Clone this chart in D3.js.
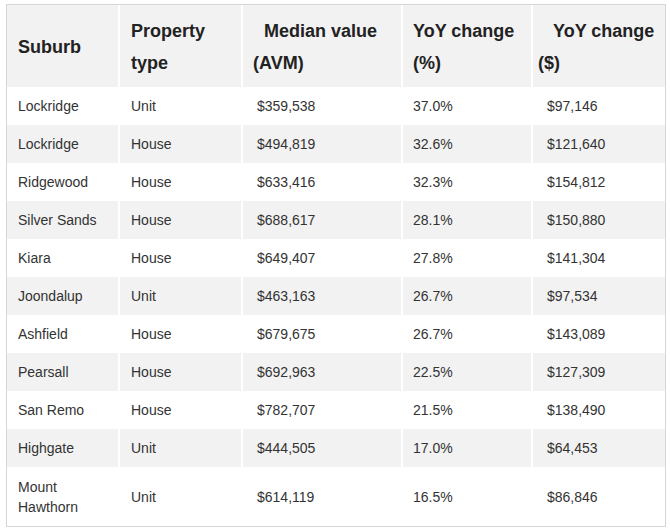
<!DOCTYPE html>
<html>
<head>
<meta charset="utf-8">
<script src="https://cdn.jsdelivr.net/npm/d3@7/dist/d3.min.js"></script>
<style>
  body { margin: 0; background: #fff; }
  text { font-family: "Liberation Sans", Arial, Helvetica, sans-serif; }
</style>
</head>
<body>
<div id="table"></div>
<script>
// table content
var headers = [["Suburb"], ["Property", "type"], ["Median value", "(AVM)"], ["YoY change", "(%)"], ["YoY change", "($)"]];
var suburbs = [["Lockridge"], ["Lockridge"], ["Ridgewood"], ["Silver Sands"], ["Kiara"], ["Joondalup"],
    ["Ashfield"], ["Pearsall"], ["San Remo"], ["Highgate"], ["Mount", "Hawthorn"]];
var propTypes = ["Unit", "House", "House", "House", "House", "Unit", "House", "House", "House", "Unit", "Unit"];
var medianValues = [359538, 494819, 633416, 688617, 649407, 463163, 679675, 692963, 782707, 444505, 614119];
var yoyPct = [37.0, 32.6, 32.3, 28.1, 27.8, 26.7, 26.7, 22.5, 21.5, 17.0, 16.5];
var yoyDollar = [97146, 121640, 154812, 150880, 141304, 97534, 143089, 127309, 138490, 64453, 86846];

var width = 670, height = 532;
var tLeft = 6, tRight = 665, tTop = 4, tBottom = 526;

// column edges
var colEdges = [6, 119, 242, 402, 532, 665];
var textX = [18, 131, 253, 413, 538];        // header text start
var bodyShift = [0, 0, 4, 0, 9];             // body text indent
var headIndent = [[0], [0, 0], [11, 0], [0, 0], [15, 0]];

var money = d3.format("$,");
var pct = function(v) { return d3.format(".1f")(v) + "%"; };

var rows = suburbs.map(function(s, i) {
    return [s, [propTypes[i]], [money(medianValues[i])], [pct(yoyPct[i])], [money(yoyDollar[i])]];
});

// row heights from number of text lines
var headerH = 83;
var rowH = rows.map(function(r) { return r[0].length > 1 ? 59 : 38; });
var rowY = [tTop + headerH];
rowH.forEach(function(h, i) { rowY.push(rowY[i] + h); });
var y = d3.scaleOrdinal().domain(d3.range(rows.length)).range(rowY);

var svg = d3.select("#table").append("svg")
    .attr("width", width)
    .attr("height", height);

function cellW(i) { return colEdges[i + 1] - colEdges[i] - (i == 4 ? 1 : 2); }

// header background
svg.append("g").selectAll("rect")
    .data(headers)
    .enter().append("rect")
    .attr("x", function(d, i) { return colEdges[i] + 1; })
    .attr("y", tTop + 1)
    .attr("width", function(d, i) { return cellW(i); })
    .attr("height", headerH - 1)
    .attr("fill", "#f2f2f2");

// striped rows
var stripe = svg.append("g");
rows.forEach(function(r, ri) {
    if (ri % 2 == 1) {
        stripe.selectAll(null)
            .data(r)
            .enter().append("rect")
            .attr("x", function(d, i) { return colEdges[i] + 1; })
            .attr("y", y(ri))
            .attr("width", function(d, i) { return cellW(i); })
            .attr("height", rowH[ri])
            .attr("fill", "#f2f2f2");
    }
});

// outer border
svg.append("rect")
    .attr("x", tLeft + 0.5)
    .attr("y", tTop + 0.5)
    .attr("width", tRight - tLeft)
    .attr("height", tBottom - tTop)
    .attr("fill", "none")
    .attr("stroke", "#d6d6d6");

// header text
var headCenter = tTop + headerH / 2 + 7;
headers.forEach(function(lines, ci) {
    svg.selectAll(null)
        .data(lines)
        .enter().append("text")
        .attr("x", function(d, li) { return textX[ci] + headIndent[ci][li]; })
        .attr("y", function(d, li) { return headCenter + (li - (lines.length - 1) / 2) * 32; })
        .attr("font-size", 18)
        .attr("font-weight", "bold")
        .attr("fill", "#222")
        .text(function(d) { return d; });
});

// body text
rows.forEach(function(r, ri) {
    var mid = y(ri) + rowH[ri] / 2 + 5;
    r.forEach(function(lines, ci) {
        svg.selectAll(null)
            .data(lines)
            .enter().append("text")
            .attr("x", textX[ci] + bodyShift[ci])
            .attr("y", function(d, li) { return mid + (li - (lines.length - 1) / 2) * 20; })
            .attr("font-size", 14)
            .attr("fill", "#333")
            .text(function(d) { return d; });
    });
});
</script>
</body>
</html>
